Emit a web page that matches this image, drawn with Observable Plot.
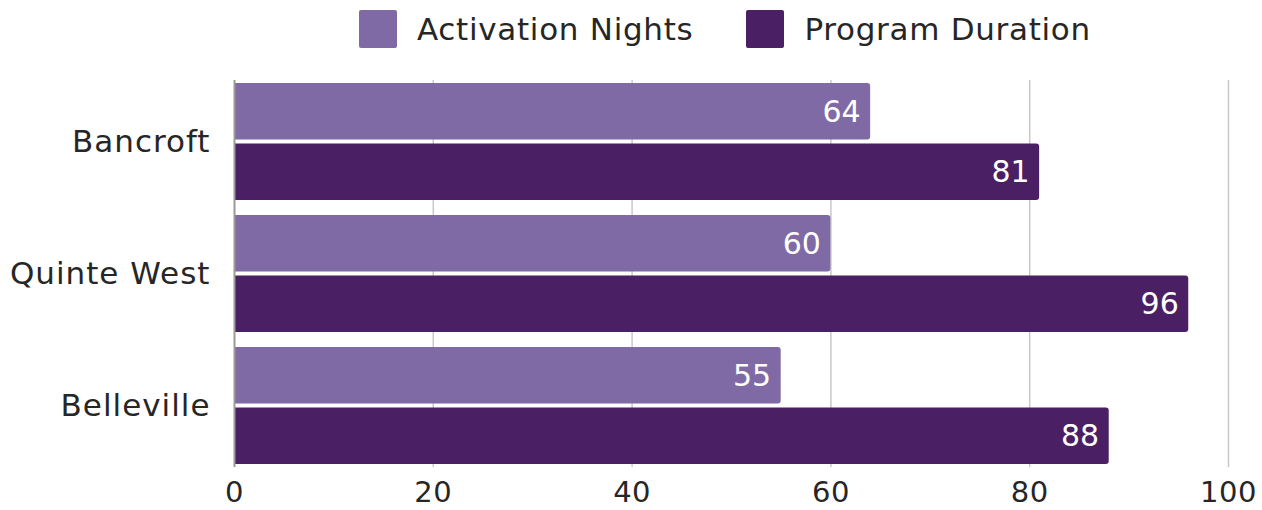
<!DOCTYPE html>
<html>
<head>
<meta charset="utf-8">
<script src="https://cdn.jsdelivr.net/npm/d3@7"></script>
<script src="https://cdn.jsdelivr.net/npm/@observablehq/plot@0.6"></script>
<style>
  html, body { margin: 0; padding: 0; background: #fff; }
  body { width: 1262px; height: 510px; overflow: hidden; font-family: "DejaVu Sans", sans-serif; }
  #legend { height: 58px; display: flex; align-items: center; padding-left: 359px; box-sizing: border-box; }
  .item { display: flex; align-items: center; margin-right: 53px; }
  .sw { width: 38px; height: 38px; border-radius: 2px; margin-right: 20px; }
  .lab { font-size: 31px; color: #262626; letter-spacing: 0.7px; }
  #chart svg { display: block; }
  #chart svg g[aria-label="y-axis tick label"] text { letter-spacing: 1px; }
  #chart svg g[aria-label="x-axis tick label"] text { letter-spacing: 0.5px; }
</style>
</head>
<body>
<div id="legend"></div>
<div id="chart"></div>
<script>
const cities = ["Bancroft", "Quinte West", "Belleville"];
const activationNights = [64, 60, 55];
const programDuration = [81, 96, 88];
const seriesNames = ["Activation Nights", "Program Duration"];
const seriesColors = ["#7f6aa5", "#4a1f63"];
const xTicks = [0, 20, 40, 60, 80, 100];

const rows = cities.map((c, i) => ({ city: c, activation: activationNights[i], duration: programDuration[i] }));

const legend = document.getElementById("legend");
seriesNames.forEach((n, i) => {
  const it = document.createElement("div");
  it.className = "item";
  it.innerHTML = `<div class="sw" style="background:${seriesColors[i]}"></div><span class="lab">${n}</span>`;
  legend.appendChild(it);
});

const chart = Plot.plot({
  width: 1262,
  height: 452,
  marginLeft: 234,
  marginRight: 34,
  marginTop: 22,
  marginBottom: 43,
  style: { fontFamily: "DejaVu Sans, sans-serif", color: "#262626", background: "#fff" },
  x: { domain: [0, 100] },
  y: { domain: cities, paddingInner: 0.11, paddingOuter: 0.02 },
  marks: [
    Plot.ruleX(xTicks.slice(1), { stroke: "#c8c8c8", strokeWidth: 1.5 }),
    Plot.barX(rows, { x: "activation", y: "city", fill: seriesColors[0], insetBottom: 60.5, insetLeft: -5, rx: 3, clip: "frame" }),
    Plot.barX(rows, { x: "duration", y: "city", fill: seriesColors[1], insetTop: 60.5, insetLeft: -5, rx: 3, clip: "frame" }),
    Plot.text(rows, { x: "activation", y: "city", text: d => String(d.activation), textAnchor: "end", dx: -10, dy: -30, fill: "#fff", fontSize: 30 }),
    Plot.text(rows, { x: "duration", y: "city", text: d => String(d.duration), textAnchor: "end", dx: -10, dy: 30, fill: "#fff", fontSize: 30 }),
    Plot.ruleX([0], { stroke: "#9a9a9a", strokeWidth: 2 }),
    Plot.axisY({ tickSize: 0, tickPadding: 24, fontSize: 31, label: null, fill: "#262626" }),
    Plot.axisX({ ticks: xTicks, tickSize: 0, tickPadding: 14, fontSize: 29, label: null, fill: "#262626" })
  ]
});
document.getElementById("chart").appendChild(chart);
</script>
</body>
</html>
